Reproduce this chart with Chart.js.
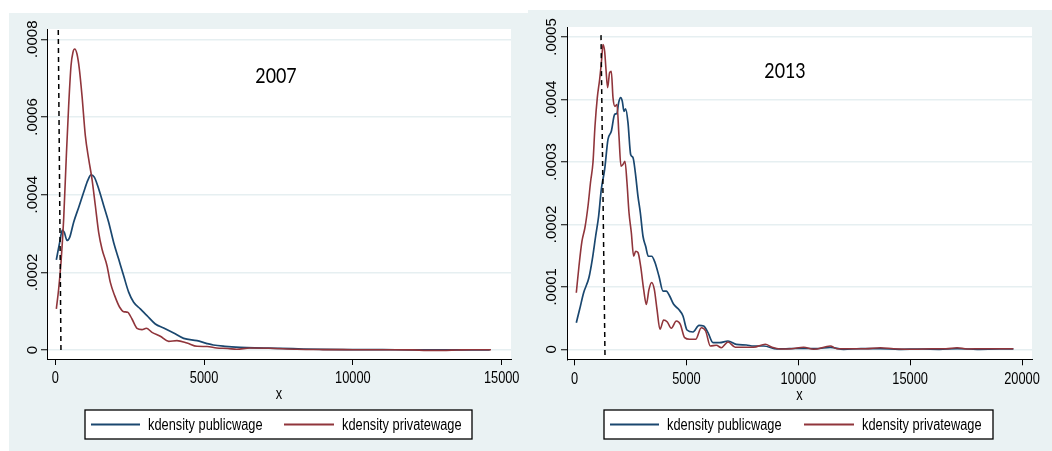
<!DOCTYPE html>
<html>
<head>
<meta charset="utf-8">
<script src="https://cdn.jsdelivr.net/npm/chart.js@4.4.1/dist/chart.umd.min.js"></script>
<style>
    html, body { margin: 0; padding: 0; background: #fff; width: 1052px; height: 451px; overflow: hidden; }
    .panel { position: absolute; background: #eaf2f3; }
    #p07 { left: 9px; top: 13px; width: 519px; height: 438px; }
    #p13 { left: 528px; top: 10px; width: 524px; height: 441px; }
    canvas { display: block; }
</style>
</head>
<body>
<div class="panel" id="p07"><canvas id="c07" width="519" height="438"></canvas></div>
<div class="panel" id="p13"><canvas id="c13" width="524" height="441"></canvas></div>
<script>
// 2007 kernel densities
const pub07X = [35, 147, 236, 303, 393, 483, 617, 785, 953, 1088, 1200, 1311, 1457, 1625, 1793, 1961, 2129, 2297, 2465, 2633, 2857, 3081, 3361, 3641, 3977, 4313, 4761, 5075, 5309, 5700, 6206, 6700, 7550, 8343, 9000, 10000, 11000, 12000, 13000, 14000, 14600];
const pub07Y = [.000232, .000277, .000309, .000303, .000282, .00029, .000329, .000367, .000406, .000436, .000451, .000445, .000415, .000372, .000329, .000277, .000234, .000191, .000149, .000123, .000106, .0000884, .000067, .0000567, .0000438, .00003, .000024, .0000172, .0000129, .0000095, .0000069, .0000055, .0000044, .0000026, .0000015, .000001, .0000008, .0000005, .0000004, .0000003, .0000002];
const priv07X = [35, 113, 192, 281, 371, 449, 528, 595, 651, 729, 807, 897, 1009, 1121, 1233, 1345, 1457, 1569, 1737, 1849, 1995, 2163, 2297, 2432, 2577, 2745, 2913, 3059, 3249, 3529, 3809, 4089, 4425, 4761, 5100, 5423, 5800, 6095, 6542, 7214, 8111, 9000, 10000, 11000, 12000, 12500, 13000, 13500, 14000, 14640];
const priv07Y = [.000106, .000157, .000226, .000337, .0005, .000629, .000732, .000767, .000775, .000762, .000724, .000655, .000552, .000492, .00044, .000372, .000303, .00026, .000217, .000174, .00014, .00011, .0000987, .000097, .0000798, .0000558, .0000524, .0000558, .0000455, .0000352, .0000223, .000024, .000018, .0000095, .000009, .0000052, .000004, .0000018, .0000052, .0000044, .0000018, .000001, .0000008, .0000006, .0000002, -.000001, -.000001, 0, .0000008, .0000005];
const cut07X = [100, 191];
const cut07Y = [.000824, -.0000077];

// 2013 kernel densities
const pub13X = [76, 225, 404, 642, 791, 940, 1074, 1194, 1343, 1492, 1641, 1790, 1894, 1969, 2058, 2133, 2207, 2282, 2386, 2505, 2610, 2714, 2833, 2937, 3057, 3176, 3295, 3444, 3593, 3772, 3951, 4100, 4249, 4428, 4651, 4845, 5024, 5292, 5561, 5769, 5963, 6187, 6484, 6857, 7230, 7677, 8000, 8450, 9050, 9600, 10239, 10800, 11432, 12027, 12800, 13668, 14500, 15500, 16300, 17097, 18000, 19000, 19615];
const pub13Y = [.0000426, .000064, .0000906, .000115, .000144, .000181, .000213, .000256, .000288, .000336, .000349, .000376, .000378, .000395, .000403, .000397, .000381, .000385, .000363, .000312, .000307, .000283, .000245, .000219, .000181, .000165, .000149, .000149, .000139, .000117, .0000933, .0000933, .0000853, .000072, .000064, .0000533, .0000309, .0000277, .0000384, .0000373, .0000266, .0000106, .0000106, .0000133, .000008, .0000069, .0000053, .0000053, .0000006, .000001, .0000016, .000001, .0000032, 0, .000001, .000001, 0, .0000005, 0, .000001, 0, .0000005, .0000005];
const priv13X = [76, 195, 329, 463, 598, 717, 821, 911, 1015, 1119, 1209, 1268, 1343, 1403, 1477, 1566, 1641, 1716, 1805, 1894, 1984, 2073, 2163, 2252, 2341, 2431, 2535, 2639, 2729, 2833, 2952, 3086, 3206, 3325, 3444, 3563, 3683, 3817, 3981, 4145, 4323, 4547, 4726, 4920, 5143, 5411, 5665, 5858, 6067, 6335, 6559, 6857, 7185, 7600, 8000, 8526, 8825, 9197, 9700, 10239, 10686, 11432, 11730, 12500, 13000, 13668, 14262, 15157, 16000, 16600, 17097, 17544, 18300, 19000, 19615];
const priv13Y = [.0000906, .000133, .000173, .000195, .000229, .000269, .000299, .000357, .000403, .000432, .000464, .000488, .000477, .000448, .000419, .000443, .000445, .000403, .000389, .000392, .000341, .000293, .000296, .000301, .000267, .000219, .000187, .000149, .000157, .000155, .000133, .000096, .000072, .000096, .000107, .000096, .000064, .000032, .0000469, .0000437, .0000336, .0000453, .00004, .0000186, .000016, .000016, .0000346, .0000293, .0000053, .0000064, .0000026, .0000117, .0000032, .0000032, .0000032, .000008, .0000032, .0000006, .000001, .0000032, 0, .0000053, .000001, .000001, .000001, .0000026, .000001, 0, .000001, .000001, .0000026, .0000006, .000001, .000001, .000001];
const cut13X = [1180, 1359];
const cut13Y = [.000503, -.0000128];

// tick labels
const xTicks07 = [0, 5000, 10000, 15000];
const yTicks07 = [0, .0002, .0004, .0006, .0008];
const xTicks13 = [0, 5000, 10000, 15000, 20000];
const yTicks13 = [0, .0001, .0002, .0003, .0004, .0005];

const seriesLabels = ['kdensity publicwage', 'kdensity privatewage'];

const NAVY = '#1a476f';
const MAROON = '#90353b';
const GRID = '#e6eff1';
const SANS = "'Liberation Sans', Arial, sans-serif";
const NOTE_FONT = "Lato, 'Open Sans', sans-serif";
const SQUISH = 0.8;   // the picture is narrowed horizontally

function zip(xs, ys) {
    return xs.map((x, i) => ({ x: x, y: ys[i] }));
}

function fmtY(v) {
    if (Math.abs(v) < 1e-12) return '0';
    return v.toFixed(4).replace(/^0/, '');
}

// text drawn with a horizontal squeeze
function narrowText(ctx, text, x, y, font, align, sx) {
    ctx.save();
    ctx.font = font;
    ctx.textAlign = align;
    ctx.textBaseline = 'middle';
    ctx.fillStyle = '#000';
    ctx.translate(x, y);
    ctx.scale(sx, 1);
    ctx.fillText(text, 0, 0);
    ctx.restore();
}

// white plot region like Stata's plotregion
const plotBg = {
    id: 'plotBg',
    beforeDraw(chart) {
        const a = chart.chartArea, ctx = chart.ctx;
        ctx.save();
        ctx.fillStyle = '#fff';
        ctx.fillRect(a.left, a.top, a.right - a.left, a.bottom - a.top);
        ctx.restore();
    }
};

// tick labels: vertical on y, narrowed on x, plus the x title
const axisText = {
    id: 'axisText',
    afterDraw(chart, args, opts) {
        const ys = chart.scales.y, xs = chart.scales.x, ctx = chart.ctx;
        ctx.save();
        ctx.font = '15px ' + SANS;
        ctx.fillStyle = '#000';
        ctx.textAlign = 'center';
        ctx.textBaseline = 'middle';
        ys.ticks.forEach(t => {
            const y = ys.getPixelForValue(t.value);
            ctx.save();
            ctx.translate(opts.yLabelX, y);
            ctx.rotate(-Math.PI / 2);
            ctx.fillText(fmtY(t.value), 0, 0);
            ctx.restore();
        });
        ctx.restore();
        const a = chart.chartArea;
        xs.ticks.forEach(t => {
            narrowText(ctx, String(t.value), xs.getPixelForValue(t.value), a.bottom + 20, '16px ' + SANS, 'center', SQUISH);
        });
        narrowText(ctx, 'x', (a.left + a.right) / 2, a.bottom + 36, '16px ' + SANS, 'center', SQUISH);
    }
};

// boxed legend under the plot
const boxLegend = {
    id: 'boxLegend',
    afterDraw(chart, args, opts) {
        const ctx = chart.ctx;
        const b = opts.box;
        const cy = (b[1] + b[3]) / 2;
        ctx.save();
        ctx.fillStyle = '#fff';
        ctx.fillRect(b[0], b[1], b[2] - b[0], b[3] - b[1]);
        ctx.strokeStyle = '#000';
        ctx.lineWidth = 1.3;
        ctx.strokeRect(b[0], b[1], b[2] - b[0], b[3] - b[1]);
        opts.items.forEach((it, i) => {
            const ds = chart.data.datasets[i + 1];
            ctx.strokeStyle = ds.borderColor;
            ctx.lineWidth = 1.8;
            ctx.beginPath();
            ctx.moveTo(it[0], cy);
            ctx.lineTo(it[1], cy);
            ctx.stroke();
            narrowText(ctx, ds.label, it[2], cy + 1, '16px ' + SANS, 'left', SQUISH);
        });
        ctx.restore();
    }
};

// year written inside the plot
const yearNote = {
    id: 'yearNote',
    afterDraw(chart, args, opts) {
        narrowText(chart.ctx, opts.text, opts.x, opts.y, '21px ' + NOTE_FONT, 'center', 0.85);
    }
};

function buildChart(id, cfg) {
    const el = document.getElementById(id);
    return new Chart(el, {
        type: 'line',
        data: {
            datasets: [
                { label: 'cut', data: zip(cfg.cutX, cfg.cutY), borderColor: '#000', borderWidth: 1.5, borderDash: [5, 4], pointRadius: 0, order: 0 },
                { label: seriesLabels[0], data: zip(cfg.pubX, cfg.pubY), borderColor: NAVY, borderWidth: 1.7, pointRadius: 0, cubicInterpolationMode: 'monotone', order: 2 },
                { label: seriesLabels[1], data: zip(cfg.privX, cfg.privY), borderColor: MAROON, borderWidth: 1.6, pointRadius: 0, cubicInterpolationMode: 'monotone', order: 1 }
            ]
        },
        options: {
            responsive: false,
            animation: false,
            events: [],
            layout: { padding: cfg.padding },
            plugins: {
                legend: { display: false },
                tooltip: { enabled: false },
                axisText: { yLabelX: cfg.yLabelX },
                boxLegend: cfg.legend,
                yearNote: cfg.note
            },
            scales: {
                x: {
                    type: 'linear',
                    min: cfg.xMin,
                    max: cfg.xMax,
                    afterBuildTicks: s => { s.ticks = cfg.xTicks.map(v => ({ value: v })); },
                    afterFit: s => { s.height = cfg.xAxisHeight; },
                    grid: { display: true, drawOnChartArea: false, drawTicks: true, tickLength: 6, tickColor: '#000', tickWidth: 1 },
                    border: { display: true, color: '#000', width: 1 },
                    ticks: { display: false }
                },
                y: {
                    min: cfg.yMin,
                    max: cfg.yMax,
                    afterBuildTicks: s => { s.ticks = cfg.yTicks.map(v => ({ value: v })); },
                    afterFit: s => { s.width = cfg.yAxisWidth; },
                    grid: { color: GRID, lineWidth: 1.5, drawTicks: true, tickLength: 6, tickColor: '#000', tickWidth: 1 },
                    border: { display: true, color: '#000', width: 1 },
                    ticks: { display: false }
                }
            }
        },
        plugins: [plotBg, axisText, boxLegend, yearNote]
    });
}

buildChart('c07', {
    pubX: pub07X, pubY: pub07Y, privX: priv07X, privY: priv07Y, cutX: cut07X, cutY: cut07Y,
    xTicks: xTicks07, yTicks: yTicks07,
    xMin: -279, xMax: 15313, yMin: -.0000232, yMax: .0008265,
    padding: { top: 16, right: 17, bottom: 46.4, left: 0 },
    xAxisHeight: 45.6, yAxisWidth: 38, yLabelX: 24,
    legend: { box: [76, 397, 463, 426], items: [[82, 131, 139], [275, 325, 333]] },
    note: { text: '2007', x: 267, y: 63 }
});

buildChart('c13', {
    pubX: pub13X, pubY: pub13Y, privX: priv13X, privY: priv13Y, cutX: cut13X, cutY: cut13Y,
    xTicks: xTicks13, yTicks: yTicks13,
    xMin: -340, xMax: 20447, yMin: -.000016, yMax: .000516,
    padding: { top: 17, right: 20, bottom: 48.4, left: 0 },
    xAxisHeight: 43.3, yAxisWidth: 39, yLabelX: 24,
    legend: { box: [76, 400, 465, 429], items: [[82, 131, 139], [276, 326, 334]] },
    note: { text: '2013', x: 257, y: 61 }
});
</script>
</body>
</html>
